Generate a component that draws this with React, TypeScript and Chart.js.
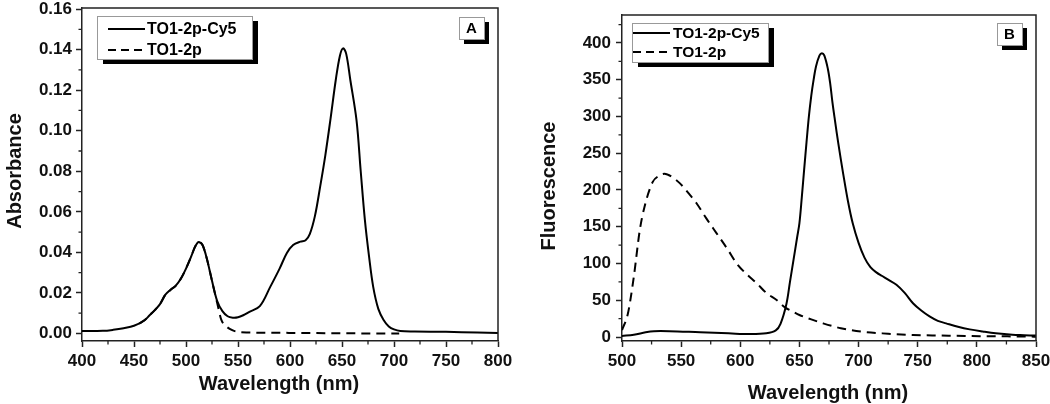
import React, { useEffect, useRef } from "react";
import { Chart, registerables } from "chart.js";

Chart.register(...registerables);

// ---------- DATA ----------
const seriesNames = ["TO1-2p-Cy5", "TO1-2p"];

// Panel A: absorbance
const absWavelengthCy5 = [400, 420, 430, 440, 450, 460, 465, 470, 475, 480, 485, 490, 495, 500, 505, 508, 511, 513, 516, 520, 525, 530, 535, 540, 545, 550, 555, 561, 571, 581, 590, 597, 603, 610, 615, 619, 624, 629, 634, 639, 644, 648, 651, 654, 658, 664, 668, 672, 676, 680, 685, 690, 695, 700, 706, 720, 750, 780, 800];
const absCy5 = [0.0012, 0.0013, 0.0018, 0.0026, 0.0038, 0.0065, 0.009, 0.0115, 0.0145, 0.019, 0.0215, 0.0235, 0.027, 0.032, 0.038, 0.042, 0.0447, 0.045, 0.0435, 0.037, 0.026, 0.016, 0.011, 0.0085, 0.0078, 0.008, 0.009, 0.0107, 0.0135, 0.023, 0.032, 0.0397, 0.0436, 0.0453, 0.046, 0.049, 0.058, 0.0724, 0.088, 0.106, 0.125, 0.137, 0.1406, 0.138, 0.125, 0.105, 0.08, 0.056, 0.038, 0.023, 0.012, 0.0067, 0.0035, 0.002, 0.0012, 0.001, 0.0008, 0.0005, 0.0003];
const absWavelength2p = [455, 460, 465, 470, 475, 480, 485, 490, 495, 500, 505, 508, 511, 513, 516, 520, 525, 530, 534, 539, 545, 550, 560, 600, 650, 705];
const abs2p = [0.0048, 0.0065, 0.009, 0.0115, 0.0145, 0.019, 0.0215, 0.0235, 0.027, 0.032, 0.038, 0.042, 0.0447, 0.045, 0.0435, 0.037, 0.026, 0.015, 0.0067, 0.0034, 0.0015, 0.0008, 0.0005, 0.0003, 0.0001, 0.0];
const absXTicks = [400, 450, 500, 550, 600, 650, 700, 750, 800];
const absXMinor = [425, 475, 525, 575, 625, 675, 725, 775];
const absYTicks = [0, 0.02, 0.04, 0.06, 0.08, 0.1, 0.12, 0.14, 0.16];
const absYMinor = [0.01, 0.03, 0.05, 0.07, 0.09, 0.11, 0.13, 0.15];

// Panel B: fluorescence
const flWavelengthCy5 = [500, 510, 520, 527, 540, 566, 590, 608, 622, 630, 634, 639, 642, 645, 648, 650, 652, 654, 656, 658, 660, 662, 664, 667, 669, 671, 674, 676, 678, 680, 683, 687, 691, 695, 700, 705, 710, 715, 720, 725, 732, 739, 746, 753, 760, 767, 774, 784, 794, 805, 816, 830, 840, 850];
const flCy5 = [1.5, 3, 6.5, 8, 8, 6.4, 5, 4, 5, 9, 18, 45, 75, 105, 135, 155, 190, 228, 265, 300, 328, 350, 368, 383, 386, 383, 365, 345, 318, 295, 262, 222, 185, 155, 128, 108, 95, 88, 83, 78, 71, 60, 46, 36, 28, 22, 18.6, 14, 10.4, 7.5, 5, 3, 2.5, 2];
const flWavelength2p = [500, 505, 510, 515, 519, 526, 531, 536, 542, 549, 556, 563, 571, 580, 589, 597, 605, 614, 622, 631, 638, 644, 650, 660, 670, 685, 704, 725, 746, 770, 790, 820, 850];
const fl2p = [9.5, 32, 82, 145, 177, 211, 219, 222, 218, 209, 196, 182, 162, 141, 120, 100, 86, 73, 60, 50, 40, 35, 30, 24, 18.6, 12, 7, 4.5, 2.7, 2, 1.4, 1, 0.5];
const flXTicks = [500, 550, 600, 650, 700, 750, 800, 850];
const flXMinor = [525, 575, 625, 675, 725, 775, 825];
const flYTicks = [0, 50, 100, 150, 200, 250, 300, 350, 400];
const flYMinor = [25, 75, 125, 175, 225, 275, 325, 375, 425];

// ---------- DRAWING ----------
const FONT = "'Liberation Sans', Arial, sans-serif";
const AXIS = "#222";

const decorPlugin = {
  id: "decor",
  afterDraw(chart: any, _args: any, o: any) {
    const { ctx, chartArea: a, scales } = chart;
    ctx.save();
    // frame (top + right)
    ctx.strokeStyle = AXIS;
    ctx.lineWidth = 1.5;
    ctx.beginPath();
    ctx.moveTo(a.left, a.top);
    ctx.lineTo(a.right, a.top);
    ctx.lineTo(a.right, a.bottom);
    ctx.stroke();
    // minor ticks
    ctx.lineWidth = 1.3;
    ctx.beginPath();
    o.xMinor.forEach((v: number) => {
      const px = scales.x.getPixelForValue(v);
      ctx.moveTo(px, a.bottom);
      ctx.lineTo(px, a.bottom + 3.5);
    });
    o.yMinor.forEach((v: number) => {
      const py = scales.y.getPixelForValue(v);
      ctx.moveTo(a.left - 3.5, py);
      ctx.lineTo(a.left, py);
    });
    ctx.stroke();

    const shadowBox = (x: number, y: number, w: number, h: number, dx: number, dy: number) => {
      ctx.fillStyle = "#000";
      ctx.fillRect(x + dx, y + dy, w, h);
      ctx.fillStyle = "#fff";
      ctx.fillRect(x, y, w, h);
      ctx.strokeStyle = "#999";
      ctx.lineWidth = 1;
      ctx.strokeRect(x + 0.5, y + 0.5, w, h);
    };

    // legend
    const L = o.legend;
    shadowBox(L.x, L.y, L.w, L.h, 6, 5);
    ctx.fillStyle = "#000";
    ctx.strokeStyle = "#000";
    ctx.font = `bold ${L.fontSize}px ${FONT}`;
    ctx.textBaseline = "middle";
    ctx.textAlign = "left";
    L.rows.forEach((r: any, i: number) => {
      ctx.lineWidth = 2;
      ctx.setLineDash(i === 0 ? [] : [8, 5]);
      ctx.beginPath();
      ctx.moveTo(L.lineX0, r);
      ctx.lineTo(L.lineX1, r);
      ctx.stroke();
      ctx.setLineDash([]);
      ctx.fillText(seriesNames[i], L.textX, r + 1);
    });

    // panel letter
    const P = o.panel;
    shadowBox(P.x, P.y, P.w, P.h, 5, 5);
    ctx.fillStyle = "#000";
    ctx.font = `bold 15px ${FONT}`;
    ctx.textAlign = "center";
    ctx.fillText(P.text, P.x + P.w / 2, P.y + P.h / 2 + 1);

    // axis titles
    const T = o.titles;
    ctx.font = `bold 20px ${FONT}`;
    ctx.fillStyle = "#111";
    ctx.textAlign = "center";
    ctx.textBaseline = "middle";
    ctx.fillText(T.x.text, T.x.cx, T.x.cy);
    ctx.save();
    ctx.translate(T.y.cx, T.y.cy);
    ctx.rotate(-Math.PI / 2);
    ctx.fillText(T.y.text, 0, 0);
    ctx.restore();
    ctx.restore();
  },
};

function makeConfig(p: any) {
  const tickFont = { family: FONT, size: 17, weight: "bold" as const };
  return {
    type: "line" as const,
    data: {
      datasets: [
        {
          label: seriesNames[0],
          data: p.x1.map((x: number, i: number) => ({ x, y: p.y1[i] })),
          borderColor: "#000",
          borderWidth: 2,
          pointRadius: 0,
          tension: 0.35,
          fill: false,
        },
        {
          label: seriesNames[1],
          data: p.x2.map((x: number, i: number) => ({ x, y: p.y2[i] })),
          borderColor: "#000",
          borderWidth: 2,
          borderDash: [9, 6],
          pointRadius: 0,
          cubicInterpolationMode: "monotone" as const,
          fill: false,
        },
      ],
    },
    options: {
      responsive: false,
      maintainAspectRatio: false,
      animation: false as const,
      layout: { padding: { left: 0, right: p.padRight, top: p.padTop, bottom: 0 } },
      plugins: {
        legend: { display: false },
        tooltip: { enabled: false },
        decor: p.decor,
      },
      scales: {
        x: {
          type: "linear" as const,
          min: p.xMin,
          max: p.xMax,
          afterBuildTicks: (s: any) => {
            s.ticks = p.xTicks.map((v: number) => ({ value: v }));
          },
          afterFit: (s: any) => {
            s.height = p.xHeight;
            s.paddingLeft = 0;
            s.paddingRight = 0;
          },
          ticks: {
            font: tickFont,
            color: "#111",
            padding: 4,
            maxRotation: 0,
            autoSkip: false,
            callback: (v: any) => String(v),
          },
          grid: { drawOnChartArea: false, drawTicks: true, tickLength: 6, tickColor: AXIS, tickWidth: 1.5 },
          border: { display: true, color: AXIS, width: 1.5 },
        },
        y: {
          type: "linear" as const,
          min: p.yMin,
          max: p.yMax,
          afterBuildTicks: (s: any) => {
            s.ticks = p.yTicks.map((v: number) => ({ value: v }));
          },
          afterFit: (s: any) => {
            s.width = p.yWidth;
            s.paddingTop = 0;
            s.paddingBottom = 0;
          },
          ticks: {
            font: tickFont,
            color: "#111",
            padding: p.yPad,
            autoSkip: false,
            callback: p.yFmt,
          },
          grid: { drawOnChartArea: false, drawTicks: true, tickLength: 6, tickColor: AXIS, tickWidth: 1.5 },
          border: { display: true, color: AXIS, width: 1.5 },
        },
      },
    },
    plugins: [decorPlugin],
  };
}

function Panel({ left, params }: { left: number; params: any }) {
  const ref = useRef<HTMLCanvasElement | null>(null);
  useEffect(() => {
    if (!ref.current) return;
    const chart = new Chart(ref.current, makeConfig(params) as any);
    return () => chart.destroy();
  }, []);
  return (
    <canvas
      ref={ref}
      width={525}
      height={404}
      style={{ position: "absolute", left, top: 0, width: 525, height: 404 }}
    />
  );
}

const panelA = {
  x1: absWavelengthCy5, y1: absCy5, x2: absWavelength2p, y2: abs2p,
  xMin: 400, xMax: 800, yMin: -0.0037, yMax: 0.1605,
  xTicks: absXTicks, yTicks: absYTicks,
  yFmt: (v: any) => Number(v).toFixed(2),
  padRight: 27, padTop: 8, xHeight: 63, yWidth: 82, yPad: 4,
  decor: {
    xMinor: absXMinor, yMinor: absYMinor,
    legend: { x: 97, y: 16, w: 155, h: 43, rows: [29, 50], lineX0: 108, lineX1: 145, textX: 147, fontSize: 16 },
    panel: { x: 459, y: 17, w: 25, h: 22, text: "A" },
    titles: { x: { text: "Wavelength (nm)", cx: 279, cy: 384 }, y: { text: "Absorbance", cx: 15, cy: 171 } },
  },
};

const panelB = {
  x1: flWavelengthCy5, y1: flCy5, x2: flWavelength2p, y2: fl2p,
  xMin: 500, xMax: 850, yMin: -5.4, yMax: 438,
  xTicks: flXTicks, yTicks: flYTicks,
  yFmt: (v: any) => String(v),
  padRight: 14, padTop: 15, xHeight: 63, yWidth: 97, yPad: 5,
  decor: {
    xMinor: flXMinor, yMinor: flYMinor,
    legend: { x: 107, y: 23, w: 136, h: 39, rows: [33, 52], lineX0: 108, lineX1: 145, textX: 148, fontSize: 15.5 },
    panel: { x: 472, y: 23, w: 25, h: 22, text: "B" },
    titles: { x: { text: "Wavelength (nm)", cx: 303, cy: 393 }, y: { text: "Fluorescence", cx: 24, cy: 186 } },
  },
};

export default function App() {
  return (
    <div style={{ position: "absolute", left: 0, top: 0, width: 1050, height: 404, background: "#fff" }}>
      <Panel left={0} params={panelA} />
      <Panel left={525} params={panelB} />
    </div>
  );
}
